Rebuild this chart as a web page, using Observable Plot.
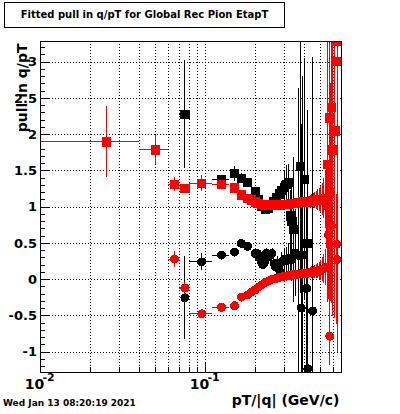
<!DOCTYPE html>
<html><head><meta charset="utf-8">
<script src="https://cdn.jsdelivr.net/npm/d3@7"></script>
<script src="https://cdn.jsdelivr.net/npm/@observablehq/plot@0.6"></script>
<style>
html,body{margin:0;padding:0;background:#fff;}
#wrap{position:relative;width:400px;height:414px;overflow:hidden;background:#fff;font-family:"DejaVu Sans",sans-serif;font-weight:bold;color:#000;}
#chart{position:absolute;left:0;top:0;}
#title{position:absolute;left:4px;top:2px;width:279px;height:24px;border:1px solid #000;font-size:10px;line-height:24px;text-align:center;white-space:nowrap;}
#date{position:absolute;left:3px;top:399px;font-size:9px;line-height:9px;white-space:nowrap;}
svg{shape-rendering:crispEdges;}
</style></head>
<body><div id="wrap"><div id="chart"></div>
<div id="title">Fitted pull in q/pT for Global Rec Pion EtapT</div>
<div id="date">Wed Jan 13 08:20:19 2021</div></div>
<script>
// ---- data ----
const rsX = [0.025,0.05,0.065,0.075,0.095,0.125,0.150,0.165,0.180,0.19,
  0.20,0.21,0.22,0.23,0.24,0.25,0.26,0.27,0.28,0.29,
  0.30,0.31,0.32,0.33,0.34,0.35,0.36,0.37,0.38,0.39,
  0.40,0.41,0.42,0.43,0.44,0.45,0.46,0.47,0.48,0.49,
  0.50,0.51,0.52,0.53,
  0.539,0.551,0.567,0.572,0.580,0.588,0.608,0.628,0.632];
const rsY = [1.90,1.79,1.31,1.255,1.33,1.31,1.265,1.17,1.12,1.10,
  1.07,1.05,1.04,1.03,1.03,1.03,1.03,1.03,1.03,1.04,
  1.04,1.04,1.04,1.05,1.05,1.05,1.06,1.06,1.06,1.07,
  1.07,1.07,1.08,1.08,1.08,1.09,1.09,1.09,1.10,1.10,
  1.10,1.11,1.12,1.10,
  1.03,1.59,2.23,1.20,2.37,1.79,2.05,3.29,3.01];
const rsE = [0.49,0.20,0.10,0.06,0.11,0.06,0.05,0.04,0.04,0.03,
  0.03,0.03,0.03,0.03,0.03,0.03,0.03,0.03,0.03,0.03,
  0.03,0.03,0.04,0.04,0.04,0.04,0.05,0.05,0.05,0.06,
  0.06,0.07,0.07,0.08,0.09,0.10,0.11,0.12,0.14,0.16,
  0.18,0.22,0.28,0.40,
  0.6,1.9,3.41,1.5,2.7,2.3,2.58,4.3,2.2];
const rsXlo = [0.01,0.04,0.06,0.07,0.08,0.11];
const rsXhi = [0.04,0.06,0.07,0.08,0.11,0.14];

const rcX = [0.065,0.075,0.095,0.125,0.150,0.165,0.180,
  0.19,0.20,0.21,0.22,0.23,0.24,0.25,0.26,0.27,0.28,
  0.29,0.30,0.31,0.32,0.33,0.34,0.35,0.36,0.37,0.38,
  0.39,0.40,0.41,0.42,0.43,0.44,0.45,0.46,0.47,0.48,
  0.49,0.50,0.51,0.52,0.53,
  0.557,0.567,0.580,0.623,0.626];
const rcY = [0.285,-0.115,-0.47,-0.38,-0.36,-0.24,-0.21,
  -0.17,-0.14,-0.10,-0.07,-0.04,-0.02,0.00,0.01,0.02,0.03,
  0.04,0.05,0.05,0.06,0.06,0.07,0.07,0.07,0.08,0.08,
  0.08,0.09,0.09,0.09,0.10,0.10,0.10,0.11,0.11,0.12,
  0.12,0.13,0.14,0.15,0.17,
  0.62,-0.78,0.735,0.49,0.28];
const rcE = [0.11,0.08,0.03,0.03,0.03,0.03,0.03,
  0.03,0.03,0.03,0.03,0.03,0.03,0.03,0.03,0.03,0.03,
  0.03,0.03,0.03,0.03,0.04,0.04,0.04,0.04,0.05,0.05,
  0.05,0.06,0.06,0.07,0.07,0.08,0.08,0.09,0.10,0.11,
  0.12,0.14,0.16,0.20,0.25,
  0.9,0.41,1.0,0.5,0.9];
const rcXlo = [0.06,0.07,0.08,0.11];
const rcXhi = [0.07,0.08,0.11,0.14];

const bsX = [0.075,0.125,0.150,0.165,0.180,0.20,0.21,0.22,0.23,0.24,
  0.25,0.26,0.27,0.28,0.29,0.30,0.31,0.319,0.327,0.334,
  0.342,0.376,0.398,0.414];
const bsY = [2.28,1.38,1.46,1.40,1.34,1.22,1.10,1.01,0.97,0.98,
  1.03,1.08,1.13,1.18,1.23,1.27,1.31,1.34,0.88,0.80,
  0.69,1.56,1.38,0.50];
const bsE = [0.74,0.06,0.10,0.06,0.05,0.05,0.05,0.05,0.05,0.06,
  0.06,0.07,0.08,0.10,0.12,0.22,0.26,0.25,0.35,0.6,
  1.0,1.75,1.67,1.0];
const bsXlo = [0.07,0.11];
const bsXhi = [0.08,0.14];

const bcX = [0.075,0.095,0.125,0.150,0.165,0.180,
  0.20,0.206,0.213,0.217,0.222,0.228,0.234,0.243,0.253,
  0.26,0.265,0.272,0.278,0.284,0.29,0.30,0.31,0.319,0.327,
  0.334,0.342,0.35,0.368,0.380,0.389,0.410,0.417,0.446];
const bcY = [-0.25,0.245,0.34,0.38,0.50,0.46,
  0.36,0.36,0.30,0.25,0.21,0.24,0.37,0.32,0.36,
  0.22,0.18,0.23,0.15,0.11,0.25,0.28,0.26,0.30,0.27,
  0.28,0.33,0.37,0.33,-0.39,0.34,-0.12,-1.23,-0.43];
const bcE = [0.57,0.12,0.05,0.05,0.05,0.05,
  0.05,0.05,0.05,0.05,0.05,0.06,0.06,0.07,0.07,
  0.08,0.08,0.09,0.1,0.1,0.12,0.15,0.18,0.2,0.25,
  0.3,0.4,0.6,2.31,2.53,2.46,1.2,3.56,3.5];
const bcXlo = [null,0.08,0.11];
const bcXhi = [null,0.11,0.14];

const yMajor = [-1,-0.5,0,0.5,1,1.5,2,2.5,3];
const yMinor = [-1.2,-1.1,-0.9,-0.8,-0.7,-0.6,-0.4,-0.3,-0.2,-0.1,0.1,0.2,0.3,0.4,0.6,0.7,0.8,0.9,
  1.1,1.2,1.3,1.4,1.6,1.7,1.8,1.9,2.1,2.2,2.3,2.4,2.6,2.7,2.8,2.9,3.1,3.2];
const xMajor = [0.01,0.1];
const xMajorExp = ["-2","-1"];
const xMinor = [0.02,0.03,0.04,0.05,0.06,0.07,0.08,0.09,0.2,0.3,0.4,0.5,0.6];
const xGrid = [0.02,0.03,0.04,0.05,0.06,0.07,0.08,0.09,0.1,0.2,0.3,0.4,0.5,0.6];

// ---- tables ----
const tab = (X,Y,E,LO,HI) => X.map((x,i)=>({x, y:Y[i], e:E[i], lo: LO[i]??null, hi: HI[i]??null}));
const rs = tab(rsX,rsY,rsE,rsXlo,rsXhi);
const rc = tab(rcX,rcY,rcE,rcXlo,rcXhi);
const bs = tab(bsX,bsY,bsE,bsXlo,bsXhi);
const bc = tab(bcX,bcY,bcE,bcXlo,bcXhi);

const W = 400, H = 414, ML = 40, MR = 59, MT = 41, MB = 42;
const PW = W-ML-MR, PH = H-MT-MB;

function series(data, color, symbol, r) {
  return [
    Plot.ruleX(data, {x:"x", y1:d=>d.y-d.e, y2:d=>d.y+d.e, stroke:color, strokeWidth:1, clip:true}),
    Plot.ruleY(data.filter(d=>d.lo!=null), {y:"y", x1:"lo", x2:"hi", stroke:color, strokeWidth:1, clip:true}),
    Plot.dot(data, {x:"x", y:"y", symbol, r, fill:color, stroke:null, clip:true})
  ];
}

const chart = Plot.plot({
  width: W, height: H,
  marginLeft: ML, marginRight: MR, marginTop: MT, marginBottom: MB,
  x: {type:"log", domain:[0.01,0.667], axis:null},
  y: {domain:[-1.28,3.285], axis:null},
  style: {background:"transparent", fontFamily:"DejaVu Sans", fontWeight:"bold", color:"#000"},
  marks: [
    Plot.ruleX(xGrid, {x:d=>d, stroke:"#000", strokeWidth:1, strokeDasharray:"1,2"}),
    Plot.ruleY(yMajor, {y:d=>d, stroke:"#000", strokeWidth:1, strokeDasharray:"1,2"}),
    Plot.tickX(xMinor, {x:d=>d, stroke:"#000", insetTop: PH-5}),
    Plot.tickX(xMajor, {x:d=>d, stroke:"#000", insetTop: PH-10}),
    Plot.tickY(yMinor, {y:d=>d, stroke:"#000", insetRight: PW-4.5}),
    Plot.tickY(yMajor, {y:d=>d, stroke:"#000", insetRight: PW-9}),
    ...series(bs, "#000", "square", 5.25),
    ...series(bc, "#000", "circle", 4.5),
    ...series(rc, "#ff0000", "circle", 4.5),
    ...series(rs, "#ff0000", "square", 5.25),
    Plot.frame({stroke:"#000", strokeWidth:1}),
    Plot.text(yMajor, {y:d=>d, frameAnchor:"left", text:d=>String(d), textAnchor:"end", dx:-3.5, fontSize:13, fontWeight:"bold", fill:"#000"}),
    Plot.text(xMajor, {x:d=>d, frameAnchor:"bottom", text:()=>"10", textAnchor:"middle", dx:-6, dy:16.5, fontSize:14, fontWeight:"bold", fill:"#000"}),
    Plot.text(xMajor, {x:d=>d, frameAnchor:"bottom", text:(d,i)=>xMajorExp[i], textAnchor:"start", dx:2, dy:8.5, fontSize:11, fontWeight:"bold", fill:"#000"}),
    Plot.text(["pT/|q| (GeV/c)"], {frameAnchor:"bottom-right", text:d=>d, textAnchor:"end", dx:-2, dy:32.5, fontSize:14, fontWeight:"bold", fill:"#000"}),
    Plot.text(["pull in q/pT"], {frameAnchor:"top-left", text:d=>d, textAnchor:"end", rotate:-90, dx:-23, dy:2, fontSize:14, fontWeight:"bold", fill:"#000"})
  ]
});
document.getElementById("chart").appendChild(chart);
</script>
</body></html>
